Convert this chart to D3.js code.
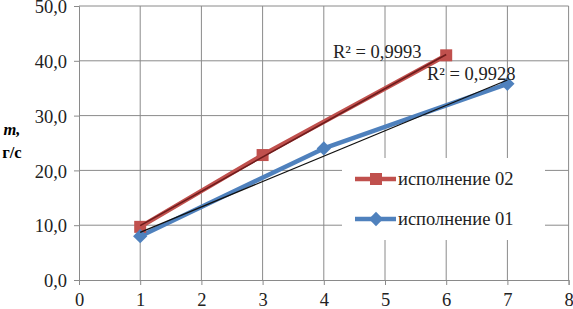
<!DOCTYPE html>
<html><head><meta charset="utf-8">
<script src="https://cdn.jsdelivr.net/npm/d3@7"></script>
<style>body{margin:0;background:#fff}svg{display:block}</style>
</head><body><svg id="c" width="573" height="309"></svg>
<script>
const xTicks = [0,1,2,3,4,5,6,7,8];
const yTicks = [0,10,20,30,40,50];
const seriesNames = ["исполнение 02","исполнение 01"];
const s02x = [1,3,6];
const s02y = [9.7,22.8,41.0];
const s01x = [1,4,7];
const s01y = [8.0,24.0,35.8];
const r2Labels = ["R² = 0,9993","R² = 0,9928"];

function pickFont(list){
  const ctx=document.createElement("canvas").getContext("2d");
  const s="исполнение 0123456789 R² mmWw";
  for(const f of list){
    let diff=false;
    for(const base of ["monospace","sans-serif"]){
      ctx.font=`40px ${base}`; const w0=ctx.measureText(s).width;
      ctx.font=`40px "${f}", ${base}`; const w1=ctx.measureText(s).width;
      if(Math.abs(w0-w1)>0.5) diff=true;
    }
    if(diff) return `"${f}", serif`;
  }
  return "serif";
}
const FONT = pickFont(["Liberation Serif","Times New Roman","Tinos","Nimbus Roman","DejaVu Serif","Noto Serif","FreeSerif"]);
const FS = "18.5px";

const svg = d3.select("#c");
const x = d3.scaleLinear().domain([0,8]).range([79,568.6]);
const y = d3.scaleLinear().domain([0,50]).range([280,6]);
const gridC = "#8a8a8a";

svg.append("g").selectAll("line").data(xTicks.slice(1)).join("line")
  .attr("x1",d=>x(d)).attr("x2",d=>x(d)).attr("y1",y(50)).attr("y2",y(0))
  .attr("stroke",gridC).attr("stroke-width",1);
svg.append("g").selectAll("line").data(yTicks.slice(1)).join("line")
  .attr("x1",x(0)).attr("x2",x(8)).attr("y1",d=>y(d)).attr("y2",d=>y(d))
  .attr("stroke",gridC).attr("stroke-width",1);

const fmt = d=>d3.format(".1f")(d).replace(".",",");
const ya = svg.append("g").attr("transform",`translate(${x(0)},0)`)
  .call(d3.axisLeft(y).tickValues(yTicks).tickSize(5).tickPadding(7).tickFormat(fmt));
const xa = svg.append("g").attr("transform",`translate(0,${y(0)})`)
  .call(d3.axisBottom(x).tickValues(xTicks).tickSize(5).tickPadding(9).tickFormat(d3.format("d")));
[ya,xa].forEach(a=>{
  a.attr("font-family",null).attr("font-size",null);
  a.select(".domain").attr("stroke",gridC);
  a.selectAll(".tick line").attr("stroke",gridC);
  a.selectAll("text").attr("fill","#222").style("font-family",FONT).style("font-size",FS);
});
ya.selectAll("text").attr("dy","0.36em");
xa.selectAll("text").attr("dy","0.66em");

svg.append("text").attr("x",12).attr("y",135).attr("text-anchor","middle").style("font-family",FONT)
  .style("font-size","16.5px").style("font-weight","bold").style("font-style","italic").text("m,");
svg.append("text").attr("x",12).attr("y",158).attr("text-anchor","middle").style("font-family",FONT)
  .style("font-size","16.5px").style("font-weight","bold").text("г/с");

const line = d3.line().x(d=>x(d[0])).y(d=>y(d[1]));
const s02 = s02x.map((v,i)=>[v,s02y[i]]);
const s01 = s01x.map((v,i)=>[v,s01y[i]]);
const red = "#c0504d", blue = "#4f81bd";

function fit(xs,ys){
  const mx=d3.mean(xs), my=d3.mean(ys);
  const b=d3.sum(xs,(v,i)=>(v-mx)*(ys[i]-my))/d3.sum(xs,v=>(v-mx)**2);
  const a=my-b*mx;
  const x0=d3.min(xs), x1=d3.max(xs);
  return [[x0,a+b*x0],[x1,a+b*x1]];
}

svg.append("path").datum(s01).attr("d",line).attr("fill","none").attr("stroke",blue).attr("stroke-width",4.5).attr("stroke-linejoin","round");
svg.append("path").datum(s02).attr("d",line).attr("fill","none").attr("stroke",red).attr("stroke-width",4.5).attr("stroke-linejoin","round");

svg.append("g").selectAll("rect").data(s02).join("rect")
  .attr("x",d=>x(d[0])-6).attr("y",d=>y(d[1])-6).attr("width",12).attr("height",12).attr("fill",red);
svg.append("g").selectAll("path").data(s01).join("path")
  .attr("d",d3.symbol(d3.symbolDiamond2,130)).attr("transform",d=>`translate(${x(d[0])},${y(d[1])})`).attr("fill",blue);

svg.append("path").datum(fit(s01x,s01y)).attr("d",line).attr("fill","none").attr("stroke","#111").attr("stroke-width",1.3);
svg.append("path").datum(fit(s02x,s02y)).attr("d",line).attr("fill","none").attr("stroke","#6e1c1c").attr("stroke-width",1.6);

svg.append("text").attr("x",333).attr("y",58).style("font-family",FONT).style("font-size",FS).attr("fill","#222").text(r2Labels[0]);
svg.append("text").attr("x",427).attr("y",80).style("font-family",FONT).style("font-size",FS).attr("fill","#222").text(r2Labels[1]);

const lg = svg.append("g");
lg.append("rect").attr("x",342).attr("y",158).attr("width",203).attr("height",82).attr("fill","#fff");
const lgItems = [{name:seriesNames[0],c:red,m:"sq",yy:179},{name:seriesNames[1],c:blue,m:"di",yy:219}];
lgItems.forEach(it=>{
  lg.append("line").attr("x1",355).attr("x2",396).attr("y1",it.yy).attr("y2",it.yy).attr("stroke",it.c).attr("stroke-width",4.5);
  if(it.m==="sq") lg.append("rect").attr("x",370).attr("y",it.yy-6).attr("width",12).attr("height",12).attr("fill",it.c);
  else lg.append("path").attr("d",d3.symbol(d3.symbolDiamond2,130)).attr("transform",`translate(376,${it.yy})`).attr("fill",it.c);
  lg.append("text").attr("x",398).attr("y",it.yy).attr("dy","0.35em").style("font-family",FONT).style("font-size",FS).attr("fill","#222").text(it.name);
});
</script></body></html>
